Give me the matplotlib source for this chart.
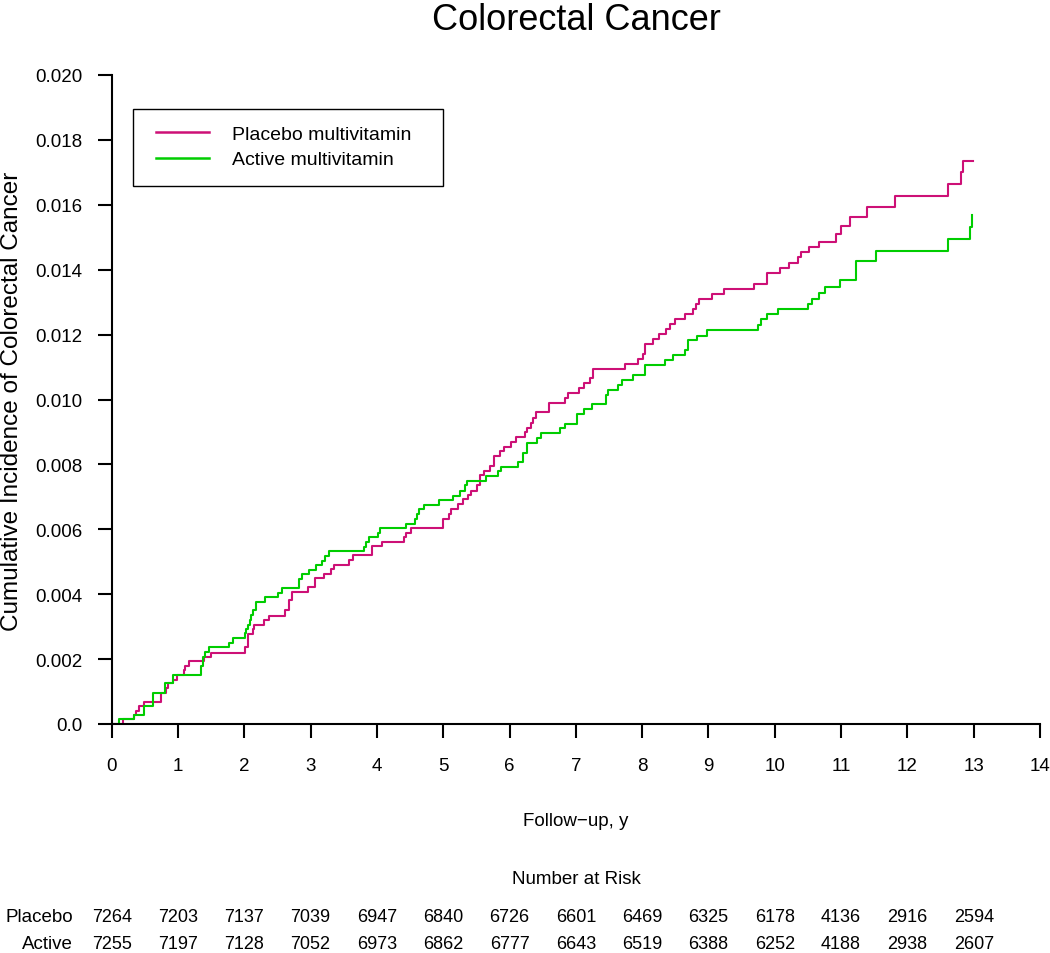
import matplotlib
matplotlib.use('Agg')
import matplotlib.pyplot as plt
import matplotlib.transforms as mtransforms
from matplotlib.patches import Rectangle
from matplotlib.lines import Line2D

plt.rcParams['font.family'] = ['Liberation Sans', 'DejaVu Sans']

# ---------------- data ----------------
placebo_t = [0.166, 0.332, 0.367, 0.417, 0.493, 0.745, 0.82, 0.845, 0.92, 0.98,
             1.087, 1.11, 1.17, 1.388, 1.50, 2.01, 2.05, 2.127, 2.15, 2.29,
             2.378, 2.62, 2.67, 2.715, 2.957, 3.07, 3.205, 3.30, 3.36, 3.58,
             3.64, 3.93, 4.08, 4.41, 4.44, 4.52, 5.00, 5.08, 5.12, 5.23,
             5.30, 5.37, 5.42, 5.51, 5.56, 5.62, 5.71, 5.77, 5.86, 5.92,
             6.02, 6.09, 6.23, 6.27, 6.33, 6.35, 6.40, 6.60, 6.84, 6.88,
             7.05, 7.12, 7.22, 7.26, 7.74, 7.93, 8.01, 8.04, 8.17, 8.26,
             8.36, 8.42, 8.50, 8.64, 8.77, 8.81, 8.85, 9.05, 9.23, 9.69,
             9.89, 10.08, 10.22, 10.35, 10.40, 10.51, 10.67, 10.93, 11.00, 11.14,
             11.39, 11.82, 12.61, 12.81, 12.84]
placebo_v = [0.00014, 0.00028, 0.00041, 0.00055, 0.00069, 0.00096, 0.00110, 0.00125, 0.00137, 0.00152,
             0.00166, 0.00180, 0.00193, 0.00206, 0.00220, 0.00237, 0.00277, 0.00294, 0.00306, 0.00320,
             0.00333, 0.00351, 0.00382, 0.00408, 0.00421, 0.00449, 0.00462, 0.00477, 0.00490, 0.00505,
             0.00521, 0.00547, 0.00560, 0.00575, 0.00588, 0.00604, 0.00633, 0.00648, 0.00663, 0.00678,
             0.00693, 0.00707, 0.00719, 0.00736, 0.00766, 0.00781, 0.00795, 0.00826, 0.00841, 0.00855,
             0.00870, 0.00885, 0.00900, 0.00913, 0.00929, 0.00944, 0.00962, 0.00988, 0.01004, 0.01020,
             0.01035, 0.01050, 0.01065, 0.01094, 0.01109, 0.01125, 0.01140, 0.01171, 0.01187, 0.01202,
             0.01218, 0.01233, 0.01249, 0.01264, 0.01280, 0.01295, 0.01310, 0.01326, 0.01342, 0.01357,
             0.01390, 0.01406, 0.01421, 0.01438, 0.01455, 0.01471, 0.01486, 0.01510, 0.01535, 0.01563,
             0.01594, 0.01628, 0.01663, 0.01700, 0.01736]
placebo_end = 12.99

active_t = [0.116, 0.332, 0.483, 0.62, 0.80, 0.92, 1.348, 1.373, 1.403, 1.464,
            1.766, 1.825, 2.01, 2.027, 2.05, 2.087, 2.10, 2.127, 2.177, 2.313,
            2.504, 2.57, 2.83, 2.87, 2.97, 3.08, 3.17, 3.22, 3.28, 3.80,
            3.836, 3.876, 4.01, 4.05, 4.44, 4.57, 4.61, 4.64, 4.71, 4.93,
            5.15, 5.25, 5.33, 5.36, 5.64, 5.82, 5.87, 6.13, 6.20, 6.27,
            6.41, 6.47, 6.76, 6.83, 7.02, 7.13, 7.24, 7.46, 7.49, 7.64,
            7.69, 7.86, 8.04, 8.34, 8.47, 8.64, 8.69, 8.83, 8.98, 9.75,
            9.79, 9.88, 10.05, 10.50, 10.56, 10.67, 10.76, 10.98, 11.22, 11.52,
            12.61, 12.95, 12.97]
active_v = [0.00014, 0.00028, 0.00055, 0.00096, 0.00125, 0.00152, 0.00180, 0.00206, 0.00222, 0.00236,
            0.00251, 0.00265, 0.00279, 0.00294, 0.00304, 0.00320, 0.00335, 0.00351, 0.00377, 0.00390,
            0.00405, 0.00418, 0.00446, 0.00461, 0.00475, 0.00490, 0.00503, 0.00519, 0.00532, 0.00545,
            0.00560, 0.00575, 0.00588, 0.00604, 0.00617, 0.00632, 0.00647, 0.00663, 0.00676, 0.00690,
            0.00704, 0.00717, 0.00736, 0.00750, 0.00764, 0.00779, 0.00793, 0.00807, 0.00836, 0.00867,
            0.00882, 0.00898, 0.00911, 0.00926, 0.00955, 0.00970, 0.00985, 0.01013, 0.01029, 0.01045,
            0.01061, 0.01076, 0.01106, 0.01122, 0.01138, 0.01153, 0.01182, 0.01197, 0.01215, 0.01231,
            0.01248, 0.01262, 0.01278, 0.01295, 0.01310, 0.01329, 0.01347, 0.01369, 0.01426, 0.01458,
            0.01494, 0.01533, 0.01569]
active_end = 12.97

x_ticks = list(range(15))
y_ticks = [0.0, 0.002, 0.004, 0.006, 0.008, 0.010, 0.012, 0.014, 0.016, 0.018, 0.020]
y_tick_labels = ['0.0', '0.002', '0.004', '0.006', '0.008', '0.010',
                 '0.012', '0.014', '0.016', '0.018', '0.020']

risk_times = list(range(14))
placebo_risk = [7264, 7203, 7137, 7039, 6947, 6840, 6726, 6601, 6469, 6325, 6178, 4136, 2916, 2594]
active_risk = [7255, 7197, 7128, 7052, 6973, 6862, 6777, 6643, 6519, 6388, 6252, 4188, 2938, 2607]

labels = ['Placebo multivitamin', 'Active multivitamin']
colors = ['#CD1076', '#00CD00']

# ---------------- figure ----------------
W, H = 1050, 954
fig = plt.figure(figsize=(W / 100, H / 100), dpi=100)


def fx(px):
    return px / W


def fy(py):
    return 1 - py / H


ax = fig.add_axes([fx(111.7), fy(725), fx(1040) - fx(111.7), fy(76) - fy(725)])

xs = [0] + placebo_t + [placebo_end]
ys = [0] + placebo_v + [placebo_v[-1]]
ax.step(xs, ys, where='post', color=colors[0], lw=1.5)
xs = [0] + active_t + [active_end]
ys = [0] + active_v + [active_v[-1]]
ax.step(xs, ys, where='post', color=colors[1], lw=1.5)

ax.set_xlim(0, 14)
ax.set_ylim(0, 0.020)
ax.set_xticks(x_ticks)
ax.set_xticklabels([str(v) for v in x_ticks])
ax.set_yticks(y_ticks)
ax.set_yticklabels(y_tick_labels)
for s in ['top', 'right']:
    ax.spines[s].set_visible(False)
for s in ['left', 'bottom']:
    ax.spines[s].set_linewidth(1.5)
ax.tick_params(axis='both', direction='out', length=10, width=1.5, labelsize=13.5, colors='black')
ax.tick_params(axis='x', pad=14)
ax.tick_params(axis='y', pad=11)

# title and axis labels
fig.text(fx(576), fy(30), 'Colorectal Cancer', ha='center', va='baseline', fontsize=26)
fig.text(fx(12), fy(401), 'Cumulative Incidence of Colorectal Cancer', rotation=90,
         ha='center', va='center', fontsize=17.5)
fig.text(fx(576), fy(822), 'Follow\u2212up, y', ha='center', va='center', fontsize=13.5)
fig.text(fx(576), fy(880), 'Number at Risk', ha='center', va='center', fontsize=13.5)

# legend
fig.patches.append(Rectangle((fx(133), fy(187)), fx(443) - fx(133), fy(110) - fy(187),
                             transform=fig.transFigure, fill=False, edgecolor='black', lw=1.0))
handles = [Line2D([0], [0], color=c, lw=1.8) for c in colors]
fig.legend(handles, labels, loc='upper left', bbox_to_anchor=(fx(156), fy(126)),
           frameon=False, fontsize=14, handlelength=2.7, handletextpad=1.2,
           borderpad=0, borderaxespad=0, labelspacing=0.42)

# number at risk table
trans = mtransforms.blended_transform_factory(ax.transData, fig.transFigure)
fig.text(fx(73), fy(918), 'Placebo', ha='right', va='center', fontsize=13.5)
fig.text(fx(73), fy(945), 'Active', ha='right', va='center', fontsize=13.5)
for t, n in zip(risk_times, placebo_risk):
    ax.text(t, fy(918), str(n), transform=trans, ha='center', va='center', fontsize=13, clip_on=False)
for t, n in zip(risk_times, active_risk):
    ax.text(t, fy(945), str(n), transform=trans, ha='center', va='center', fontsize=13, clip_on=False)

fig.savefig('out.png', dpi=100)
